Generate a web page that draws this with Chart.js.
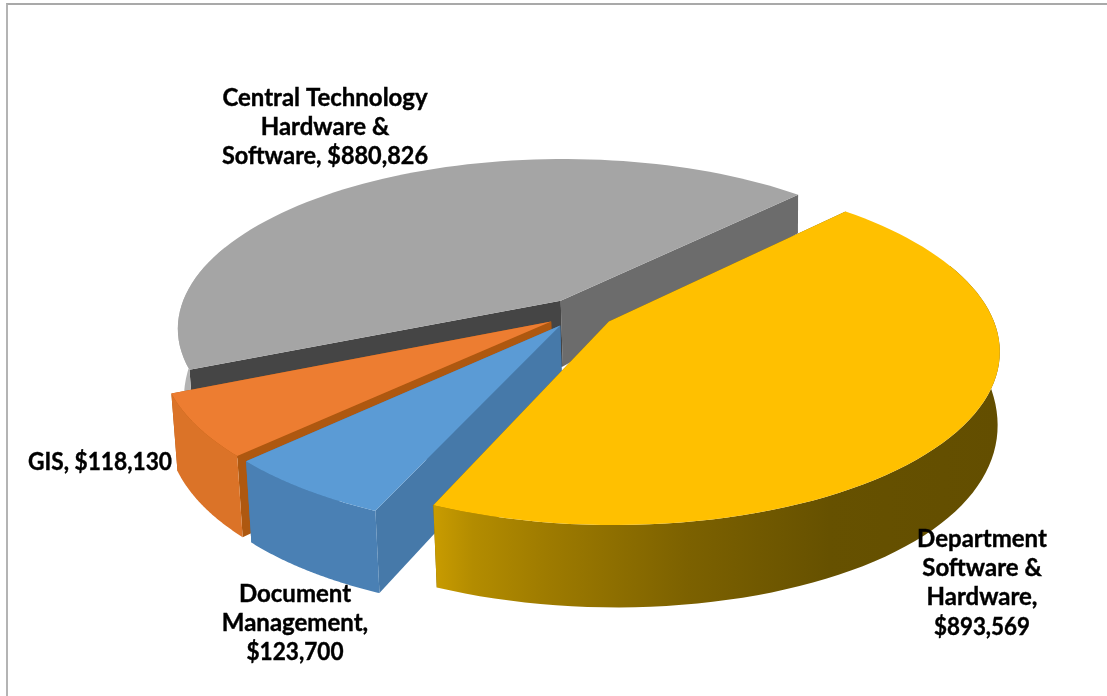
<!DOCTYPE html>
<html>
<head>
<meta charset="utf-8">
<script src="https://cdn.jsdelivr.net/npm/chart.js@4"></script>
<style>
    html, body { margin: 0; padding: 0; background: #fff; overflow: hidden; }
    #quadro { position: absolute; left: 6px; top: 3px; width: 1101px; height: 693px; box-sizing: border-box;
              border-top: 2px solid #a9a9a9; border-left: 2px solid #b4b4b4; }
    #grafico { position: absolute; left: 0; top: 0; }
</style>
</head>
<body>
<div id="quadro"></div>
<canvas id="grafico" width="1107" height="696"></canvas>
<script>
// order follows the pie clockwise, starting at the yellow slice
const categorias = ["Department Software & Hardware", "Document Management", "GIS", "Central Technology Hardware & Software"];
const valores = [893569, 123700, 118130, 880826];
const linhasRotulo = [
    ["Department", "Software &", "Hardware,", "$893,569"],
    ["Document", "Management,", "$123,700"],
    ["GIS, $118,130"],
    ["Central Technology", "Hardware &", "Software, $880,826"]
];
const coresTopo = ["#FFC000", "#5B9BD5", "#ED7D31", "#A5A5A5"];
const coresBorda = [null, "#4A80B4", "#DB7328", "#B3B3B3"];
const coresParedeInicio = ["#7A5E00", "#4679A9", "#AE5810", "#454545"];
const coresParedeFim = ["#7A5E00", "#4679A9", "#AE5810", "#6C6C6C"];
const posicaoRotulo = [[982, 539], [295, 594], [100, 462], [325, 98]];
// the digits in Lato run wider than the original font, these lines get squeezed
const larguraRotulo = [[0, 0, 0, 96], [0, 0, 97], [144], [0, 0, 206]];

// view of the flat pie: perspective tilt, the side wall hangs below the top face
const vista = { cx: 580, cy: 313, a: 382, b: 168, p: 0.16 };

function projetar(u, v) {
    const w = 1 - vista.p * v;
    return { x: vista.cx + vista.a * u / w, y: vista.cy + vista.b * v / w };
}

function projetarBase(u, v) {
    const topo = projetar(u, v);
    const altura = 68 + 27 * v - 12.7 * v * v;
    return { x: vista.cx + (topo.x - vista.cx) * 0.99 + 2, y: topo.y + altura };
}

function pontosDoArco(arco) {
    const meio = (arco.startAngle + arco.endAngle) / 2;
    const e = arco.options.offset / arco.outerRadius;
    const ox = Math.cos(meio) * e;
    const oy = Math.sin(meio) * e;
    const pts = [];
    const frente = [];
    for (let i = 0; i <= 80; i++) {
        const t = arco.startAngle + (arco.endAngle - arco.startAngle) * i / 80;
        const p = { u: ox + Math.cos(t), v: oy + Math.sin(t) };
        pts.push(p);
        // the back of the rim can't be seen
        if (Math.sin(t) > -0.35) {
            frente.push(p);
        }
    }
    return { centro: { u: ox, v: oy }, pts: pts, frente: frente };
}

function preencher(ctx, lista, cor) {
    ctx.beginPath();
    lista.forEach((p, i) => i == 0 ? ctx.moveTo(p.x, p.y) : ctx.lineTo(p.x, p.y));
    ctx.closePath();
    ctx.fillStyle = cor;
    ctx.fill();
}

function parede(ctx, a, b, cor) {
    preencher(ctx, [projetar(a.u, a.v), projetar(b.u, b.v), projetarBase(b.u, b.v), projetarBase(a.u, a.v)], cor);
}

const pizza3d = {
    id: "pizza3d",
    beforeDatasetsDraw(chart) {
        const ctx = chart.ctx;
        const arcos = chart.getDatasetMeta(0).data;
        // back to front: grey, orange, blue, yellow
        [3, 2, 1, 0].forEach((i) => {
            const arco = arcos[i];
            const { centro, pts, frente } = pontosDoArco(arco);
            parede(ctx, centro, pts[pts.length - 1], coresParedeFim[i]);
            parede(ctx, centro, pts[0], coresParedeInicio[i]);

            const topo = pts.map(p => projetar(p.u, p.v));
            const bordaTopo = frente.map(p => projetar(p.u, p.v));
            const bordaBase = frente.map(p => projetarBase(p.u, p.v)).reverse();
            let corBorda = coresBorda[i];
            if (!corBorda) {
                const xs = topo.map(p => p.x);
                const x0 = Math.min(...xs);
                const x1 = Math.max(...xs);
                corBorda = ctx.createLinearGradient(x0, 0, x1, 0);
                corBorda.addColorStop(0, "#C99C00");
                corBorda.addColorStop(0.07, "#B38C00");
                corBorda.addColorStop(0.2, "#9E7B00");
                corBorda.addColorStop(0.45, "#7C6100");
                corBorda.addColorStop(0.7, "#665100");
                corBorda.addColorStop(1, "#634E00");
            }
            preencher(ctx, bordaTopo.concat(bordaBase), corBorda);

            const c = projetar(centro.u, centro.v);
            preencher(ctx, [c].concat(topo), arco.options.backgroundColor);
        });

        ctx.fillStyle = "#000";
        ctx.strokeStyle = "#000";
        ctx.lineWidth = 0.4;
        ctx.font = "bold 24px Lato";
        ctx.textAlign = "center";
        ctx.textBaseline = "middle";
        linhasRotulo.forEach((linhas, i) => {
            linhas.forEach((txt, j) => {
                const y = posicaoRotulo[i][1] + j * 29.3;
                if (larguraRotulo[i][j]) {
                    ctx.fillText(txt, posicaoRotulo[i][0], y, larguraRotulo[i][j]);
                    ctx.strokeText(txt, posicaoRotulo[i][0], y, larguraRotulo[i][j]);
                } else {
                    ctx.fillText(txt, posicaoRotulo[i][0], y);
                    ctx.strokeText(txt, posicaoRotulo[i][0], y);
                }
            });
        });
        return false;
    }
};

new Chart(document.getElementById("grafico"), {
    type: "pie",
    data: {
        labels: categorias,
        datasets: [{
            data: valores,
            backgroundColor: coresTopo,
            borderWidth: 0,
            offset: 30
        }]
    },
    options: {
        responsive: false,
        animation: false,
        rotation: 44,
        plugins: {
            legend: { display: false },
            tooltip: { enabled: false }
        }
    },
    plugins: [pizza3d]
});
</script>
</body>
</html>
